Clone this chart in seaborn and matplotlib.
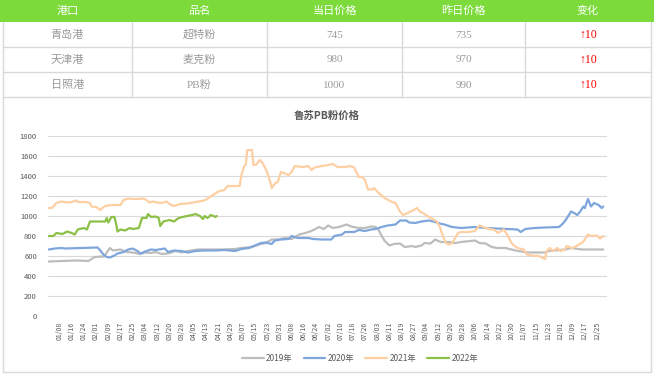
import matplotlib
matplotlib.use("Agg")
import matplotlib.pyplot as plt
import seaborn as sns
import pandas as pd
from matplotlib.patches import Rectangle

# ---------------- data ----------------
table_header = ["港口", "品名", "当日价格", "昨日价格", "变化"]
ports = ["青岛港", "天津港", "日照港"]
products = ["超特粉", "麦克粉", "PB粉"]
today_price = [745, 980, 1000]
yesterday_price = [735, 970, 990]
change = ["↑10", "↑10", "↑10"]

title = "鲁苏PB粉价格"
years = ["2019年", "2020年", "2021年", "2022年"]
colors = ["#BDBDBD", "#7FA6DC", "#FDCFA3", "#8CC046"]

# x axis: day of year on a leap-year calendar (01/01 .. 12/31)
tick_days = list(range(8, 361, 8))
tick_labels = ["01/08", "01/16", "01/24", "02/01", "02/09", "02/17", "02/25", "03/04",
               "03/12", "03/20", "03/28", "04/05", "04/13", "04/21", "04/29", "05/07",
               "05/15", "05/23", "05/31", "06/08", "06/16", "06/24", "07/02", "07/10",
               "07/18", "07/26", "08/03", "08/11", "08/19", "08/27", "09/04", "09/12",
               "09/20", "09/28", "10/06", "10/14", "10/22", "10/30", "11/07", "11/15",
               "11/23", "12/01", "12/09", "12/17", "12/25"]

days_2019 = [1, 9, 20, 27, 29, 31, 37, 39, 41, 43, 48, 52, 56, 61, 64, 68, 71, 75, 79, 84, 88,
             92, 99, 106, 114, 123, 127, 134, 140, 143, 147, 151, 156, 160, 165, 169, 173,
             178, 181, 184, 187, 191, 196, 199, 204, 208, 212, 215, 217, 219, 221, 224, 227,
             231, 234, 239, 241, 245, 247, 251, 254, 256, 258, 263, 267, 271, 280, 283, 287,
             291, 295, 300, 304, 308, 315, 326, 328, 339, 343, 350, 364]
vals_2019 = [545, 550, 555, 550, 570, 590, 595, 635, 680, 655, 665, 640, 635, 620, 635, 630,
             640, 620, 625, 650, 635, 650, 665, 665, 665, 670, 680, 690, 720, 730, 765, 765,
             780, 770, 815, 830, 850, 890, 870, 905, 880, 890, 915, 895, 880, 880, 895, 890,
             860, 800, 750, 705, 720, 725, 690, 700, 690, 705, 730, 725, 765, 750, 740, 740,
             730, 740, 755, 730, 725, 690, 680, 680, 665, 650, 635, 635, 650, 665, 680, 665,
             665]

days_2020 = [1, 5, 9, 12, 33, 35, 37, 39, 41, 44, 46, 50, 53, 56, 59, 61, 65, 68, 71, 77, 79,
             83, 88, 92, 97, 103, 110, 116, 123, 127, 132, 136, 140, 143, 147, 149, 153, 158,
             160, 164, 171, 174, 180, 186, 188, 193, 195, 201, 204, 208, 212, 215, 219, 223,
             228, 231, 235, 237, 241, 245, 250, 254, 257, 260, 265, 271, 280, 287, 308, 310,
             313, 319, 326, 335, 337, 339, 343, 345, 347, 349, 351, 352, 354, 356, 358, 361,
             363, 364]
vals_2020 = [665, 675, 680, 675, 685, 650, 610, 590, 585, 605, 625, 640, 665, 675, 650, 625,
             650, 665, 660, 675, 640, 655, 650, 635, 650, 655, 655, 660, 650, 670, 680, 705,
             730, 735, 720, 755, 765, 770, 800, 780, 780, 770, 765, 765, 800, 815, 840, 840,
             860, 850, 865, 870, 890, 905, 915, 955, 955, 935, 930, 945, 955, 940, 925, 915,
             890, 880, 890, 880, 865, 840, 870, 880, 885, 890, 915, 950, 1045, 1030, 1010,
             1045, 1095, 1080, 1170, 1095, 1130, 1110, 1080, 1095]

days_2021 = [1, 3, 6, 9, 13, 16, 19, 20, 25, 28, 29, 32, 35, 36, 38, 42, 48, 50, 53, 56, 60,
             63, 65, 67, 69, 72, 75, 78, 80, 83, 87, 92, 99, 103, 107, 110, 112, 116, 118, 123,
             126, 127, 129, 130, 131, 134, 135, 137, 139, 141, 142, 144, 146, 147, 149, 151,
             153, 155, 158, 160, 162, 167, 171, 173, 175, 180, 184, 187, 190, 195, 198, 201,
             204, 206, 208, 210, 213, 214, 217, 221, 225, 228, 231, 233, 236, 240, 242, 244,
             246, 248, 251, 253, 255, 257, 259, 261, 263, 265, 267, 269, 271, 276, 280, 283,
             287, 293, 295, 299, 301, 304, 306, 308, 312, 314, 317, 322, 324, 326, 327, 329,
             331, 334, 336, 339, 340, 344, 347, 350, 352, 354, 356, 360, 362, 364]
vals_2021 = [1080, 1080, 1130, 1145, 1135, 1140, 1155, 1140, 1140, 1130, 1095, 1090, 1060,
             1080, 1100, 1110, 1110, 1160, 1175, 1170, 1170, 1175, 1160, 1135, 1145, 1135,
             1130, 1145, 1120, 1100, 1120, 1125, 1145, 1155, 1195, 1225, 1245, 1260, 1300,
             1300, 1300, 1400, 1500, 1515, 1660, 1660, 1510, 1515, 1560, 1530, 1500, 1440,
             1340, 1280, 1325, 1340, 1440, 1430, 1410, 1440, 1500, 1490, 1500, 1460, 1485,
             1500, 1510, 1520, 1490, 1490, 1500, 1485, 1390, 1390, 1365, 1265, 1265, 1280,
             1230, 1180, 1145, 1130, 1045, 1010, 1030, 1060, 1080, 1045, 1030, 1010, 980,
             965, 945, 895, 800, 730, 715, 725, 780, 830, 840, 840, 850, 905, 880, 860, 830,
             865, 815, 730, 700, 680, 665, 615, 605, 600, 585, 570, 650, 680, 650, 680, 650,
             665, 700, 680, 705, 730, 765, 815, 800, 805, 775, 800]

days_2022 = [1, 4, 6, 10, 13, 16, 18, 20, 24, 26, 28, 31, 38, 39, 40, 42, 44, 45, 46, 48, 51,
             54, 56, 60, 62, 65, 66, 68, 71, 73, 74, 76, 80, 83, 86, 90, 95, 97, 100, 102,
             103, 105, 107, 109, 110, 111]
vals_2022 = [800, 800, 830, 820, 845, 830, 815, 865, 880, 865, 945, 945, 945, 980, 935, 990,
             990, 930, 845, 865, 855, 880, 870, 880, 980, 980, 1020, 990, 995, 980, 900, 945,
             960, 945, 980, 995, 1010, 1020, 1000, 970, 1000, 980, 1010, 1000, 990, 1000]

# ---------------- figure ----------------
sns.set_theme(style="white")
plt.rcParams["font.family"] = ["Noto Sans CJK SC", "DejaVu Sans"]
W, H = 654, 377
fig = plt.figure(figsize=(W / 100, H / 100), dpi=100)
fig.patch.set_facecolor("white")

# background / table layer in pixel coordinates
bg = fig.add_axes([0, 0, 1, 1], zorder=0)
bg.set_xlim(0, W)
bg.set_ylim(H, 0)
bg.axis("off")

line_c = "#D9D9D9"
bg.add_patch(Rectangle((0, 0), W, 22, color="#7DDA3B", lw=0))
col_edges = [3, 132, 267, 402, 525, 651]
col_centers = [(col_edges[i] + col_edges[i + 1]) / 2 for i in range(5)]
for i, h in enumerate(table_header):
    bg.text(col_centers[i], 11, h, color="white", fontsize=8, ha="center", va="center",
            family=["Noto Sans CJK SC", "DejaVu Sans"])
for yline in [47, 72, 97]:
    bg.plot([3, 651], [yline, yline], color=line_c, lw=1)
for xline in col_edges[1:-1]:
    bg.plot([xline, xline], [22, 97], color=line_c, lw=1)
bg.plot([3, 3], [22, 372], color=line_c, lw=1)
bg.plot([651, 651], [22, 372], color=line_c, lw=1)
bg.plot([3, 651], [372, 372], color=line_c, lw=1)

serif = ["Liberation Serif", "Noto Sans CJK SC", "DejaVu Sans"]
body_c = "#9A9A9A"
for r in range(3):
    yc = 35 + 25 * r
    row = [ports[r], products[r], str(today_price[r]), str(yesterday_price[r])]
    for i, t in enumerate(row):
        bg.text(col_centers[i], yc, t, color=body_c, fontsize=8, ha="center", va="center",
                family=serif)
    bg.text(col_centers[4], yc, change[r], color="#FF0000", fontsize=8.5, ha="center",
            va="center", family=["Liberation Serif", "DejaVu Sans"])

fig.text(327 / W, 1 - 116 / H, title, fontsize=7.5, fontweight="bold", color="#595959",
         ha="center", va="center")

# ---------------- chart ----------------
frames = []
for y, d, v in zip(years, [days_2019, days_2020, days_2021, days_2022],
                   [vals_2019, vals_2020, vals_2021, vals_2022]):
    frames.append(pd.DataFrame({"day": d, "price": v, "year": y}))
df = pd.concat(frames, ignore_index=True)

ax = fig.add_axes([48 / W, 1 - 316 / H, 559 / W, 180 / H], zorder=2)
ax.patch.set_alpha(0)
sns.lineplot(data=df, x="day", y="price", hue="year", hue_order=years,
             palette=colors, estimator=None, sort=True, linewidth=1.6, ax=ax)

ax.set_xlim(0.5, 366.5)
ax.set_ylim(0, 1800)
ax.set_yticks(range(0, 1801, 200))
ax.set_xticks(tick_days)
ax.set_xticklabels(tick_labels, rotation=90)
ax.tick_params(axis="y", labelsize=5.5, colors="#595959", length=0, pad=8)
ax.tick_params(axis="x", labelsize=5, colors="#595959", length=0, pad=4)
ax.yaxis.grid(True, color=line_c, lw=0.8)
ax.xaxis.grid(False)
ax.set_axisbelow(True)
for s in ax.spines.values():
    s.set_visible(False)
ax.set_xlabel("")
ax.set_ylabel("")

sns.move_legend(ax, loc="center", bbox_to_anchor=(360 / W, 1 - 358 / H),
                bbox_transform=fig.transFigure, ncol=4, frameon=False, title=None,
                fontsize=6, handlelength=2.6, handletextpad=0.3, columnspacing=1.3)
for t in ax.get_legend().get_texts():
    t.set_color("#595959")

fig.savefig("out.png", dpi=100, facecolor="white")
